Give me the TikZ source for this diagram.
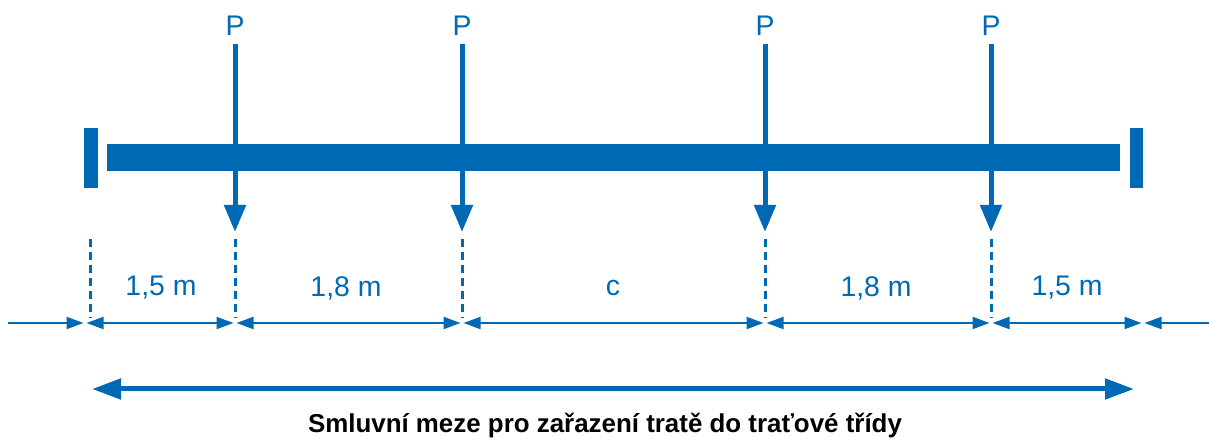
\documentclass[tikz,border=0pt]{standalone}
\usepackage{fontspec}
\setmainfont{Liberation Sans}
\usetikzlibrary{arrows.meta}
\definecolor{railblue}{RGB}{0,105,180}

\begin{document}
\begin{tikzpicture}[x=1bp,y=-1bp,
		every node/.style={text=railblue,font=\fontsize{28.5}{33}\selectfont},
		load arrow/.style={draw=railblue,line width=5bp,-{Triangle[length=27bp,width=21bp]}},
		guide line/.style={draw=railblue,line width=3bp,dash pattern=on 8bp off 5bp},
		dim base/.style={draw=railblue,line width=2bp},
		dim line/.style={dim base,{Triangle[length=17bp,width=12bp]}-{Triangle[length=17bp,width=12bp]},shorten <=1.5bp,shorten >=1.5bp},
		dim end/.style={dim base,-{Triangle[length=17bp,width=12bp]},shorten >=1.5bp},
		span arrow/.style={draw=railblue,line width=5bp,{Triangle[length=29bp,width=20bp]}-{Triangle[length=29bp,width=20bp]}}]
		
		\useasboundingbox (0,0) rectangle (1209,441);
		
		% beam and supports
		\fill[railblue] (107,144) rectangle (1120,171);
		\fill[railblue] (84,128) rectangle (98,188);
		\fill[railblue] (1130,128) rectangle (1143,188);
		
		% loads
		\foreach \x [count=\i] in {235,462,765,991} {
			\node (p\i) at (\x,26) {P};
			\coordinate (top\i) at (\x,44);
			\coordinate (tip\i) at (\x,232);
			\draw[load arrow] (top\i) -- (tip\i);
		}
		
		% dashed guides
		\foreach \x [count=\i] in {90,235,462,765,991} {
			\coordinate (ga\i) at (\x,239);
			\coordinate (gb\i) at (\x,318);
			\draw[guide line] (ga\i) -- (gb\i);
		}
		
		% dimension chain
		\coordinate (lend) at (8,323);
		\coordinate (rend) at (1209,323);
		\coordinate (s0) at (85,323);
		\coordinate (s1) at (235,323);
		\coordinate (s2) at (462,323);
		\coordinate (s3) at (765,323);
		\coordinate (s4) at (991,323);
		\coordinate (s5) at (1143,323);
		\draw[dim end] (lend) -- (s0);
		\draw[dim end] (rend) -- (s5);
		\draw[dim line] (s0) -- (s1);
		\draw[dim line] (s1) -- (s2);
		\draw[dim line] (s2) -- (s3);
		\draw[dim line] (s3) -- (s4);
		\draw[dim line] (s4) -- (s5);
		
		\node (d1) at (161,288) {1,5 m};
		\node (d2) at (346,288) {1,8 m};
		\node (d3) at (613,288) {c};
		\node (d4) at (876,288) {1,8 m};
		\node (d5) at (1067,288) {1,5 m};
		
		% contractual limits
		\coordinate (ml) at (92,389);
		\coordinate (mr) at (1134,389);
		\draw[span arrow] (ml) -- (mr);
		\node[text=black,font=\fontsize{26}{30}\selectfont\bfseries] (cap) at (605,426) {Smluvní meze pro zařazení tratě do traťové třídy};
\end{tikzpicture}
\end{document}
